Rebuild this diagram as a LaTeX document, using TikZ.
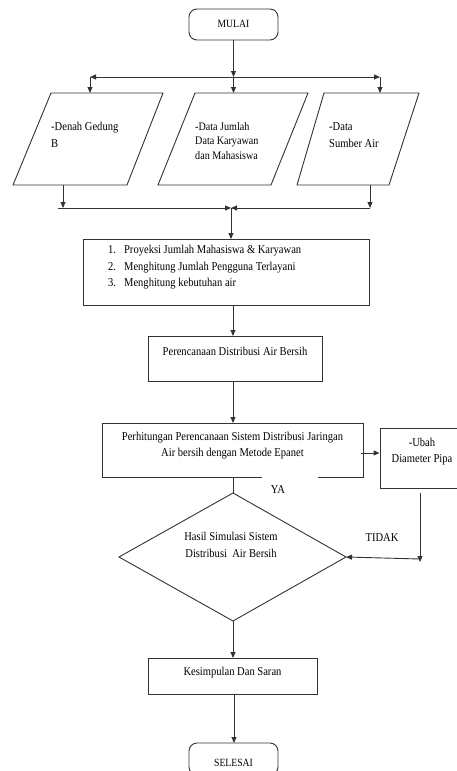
\documentclass[tikz,border=0pt]{standalone}
\usepackage{fontspec}
\setmainfont{Liberation Serif}[FakeStretch=0.88]
\usetikzlibrary{arrows.meta,shapes.geometric}
\begin{document}
\begin{tikzpicture}[x=1pt,y=-1pt,
  ln/.style={draw=black!80,line width=0.9pt},
  arr/.style={ln,-{Triangle[length=6pt,width=5pt]}},
  term/.style={ln,rounded corners=8pt,minimum width=89pt,minimum height=31pt,inner sep=0pt},
  boxn/.style={ln,inner sep=0pt},
  txt/.style={font=\fontsize{12}{16.5}\selectfont,inner sep=0pt,align=left},
  ctxt/.style={font=\fontsize{12}{16.5}\selectfont,inner sep=0pt,align=center}]
\useasboundingbox (0,0) rectangle (456,771);
% terminals
\node[term] (mulai) at (233.5,24.5) {};
\node[ctxt,font=\fontsize{11}{13}\selectfont] (tmulai) at (233.5,24) {MULAI};
\coordinate (j1) at (233.5,77);
\coordinate (jl) at (90,77);
\coordinate (jr) at (380,77);
\draw[arr] (mulai.south) -- (j1);
\draw[arr] (j1) -- (jl);
\draw[arr] (j1) -- (jr);
% parallelograms
\coordinate (p1a) at (51,93); \coordinate (p1b) at (163,93);
\coordinate (p1c) at (127,185); \coordinate (p1d) at (13,185);
\coordinate (p2a) at (195,93); \coordinate (p2b) at (308,93);
\coordinate (p2c) at (271,185); \coordinate (p2d) at (158,185);
\coordinate (p3a) at (324,93); \coordinate (p3b) at (419,93);
\coordinate (p3c) at (389,185); \coordinate (p3d) at (297,185);
\draw[ln] (p1a) -- (p1b) -- (p1c) -- (p1d) -- cycle;
\draw[ln] (p2a) -- (p2b) -- (p2c) -- (p2d) -- cycle;
\draw[ln] (p3a) -- (p3b) -- (p3c) -- (p3d) -- cycle;
\coordinate (p1t) at (90,93);
\coordinate (p2t) at (233.5,93);
\coordinate (p3t) at (380,93);
\draw[arr] (jl) -- (p1t);
\draw[arr] (j1) -- (p2t);
\draw[arr] (jr) -- (p3t);
\node[txt,anchor=west] (t1) at (51,135) {-Denah Gedung\\B};
\node[txt,anchor=west,font=\fontsize{11.5}{14.5}\selectfont] (t2) at (195,141) {-Data Jumlah\\Data Karyawan\\dan Mahasiswa};
\node[txt,anchor=west] (t3) at (329,135) {-Data\\Sumber Air};
% merge
\coordinate (m1) at (63,208); \coordinate (m3) at (370,208);
\coordinate (m0) at (58,208); \coordinate (mc) at (231,208);
\draw[arr] (63,185) -- (m1);
\draw[arr] (370,185) -- (m3);
\draw[arr] (m0) -- (mc);
\draw[arr] (m3) -- (mc);
% box1
\node[boxn,minimum width=286pt,minimum height=66pt] (b1) at (226,272) {};
\node[txt,anchor=north west] (t4) at (108,245) {1.\hspace{8pt}Proyeksi Jumlah Mahasiswa \& Karyawan\\2.\hspace{8pt}Menghitung Jumlah Pengguna Terlayani\\3.\hspace{8pt}Menghitung kebutuhan air};
\draw[arr] (mc) -- (231,239);
% box2
\node[boxn,minimum width=174pt,minimum height=45pt] (b2) at (235,358.5) {};
\node[ctxt] (t5) at (235,351) {Perencanaan Distribusi Air Bersih};
\draw[arr] (233,305) -- (233,336);
% box3
\coordinate (b3nw) at (102,423); \coordinate (b3se) at (363,477);
\draw[ln] (262,477) -| (b3nw) -| (b3se) -- (318,477);
\node[ctxt] (t6) at (232.5,445.5) {Perhitungan Perencanaan Sistem Distribusi Jaringan\\Air bersih dengan Metode Epanet};
\draw[arr] (233,381) -- (233,423);
% ubah
\node[boxn,minimum width=92pt,minimum height=60pt] (b4) at (426,458) {};
\node[ctxt] (t7) at (422,451.5) {-Ubah\\Diameter Pipa};
\draw[arr] (361,453) -- (b4.west |- 0,453);
% diamond
\coordinate (dt) at (233,493); \coordinate (dl) at (119,557);
\coordinate (dr) at (346,557); \coordinate (db) at (233,621);
\draw[ln] (dt) -- (dr) -- (db) -- (dl) -- cycle;
\node[ctxt] (t8) at (231,545) {Hasil Simulasi Sistem\\Distribusi\ \ Air Bersih};
\draw[ln] (233,477) -- (dt);
\node[ctxt] (ya) at (278,490) {YA};
\coordinate (u1) at (420,493); \coordinate (u2) at (420,562);
\draw[arr] (u1) -- (u2);
\draw[arr] (420,559) -- (dr);
\node[ctxt] (tidak) at (382,538) {TIDAK};
% kesimpulan
\node[boxn,minimum width=169pt,minimum height=36pt] (b5) at (232.5,676) {};
\node[ctxt] (t9) at (232.5,673) {Kesimpulan Dan Saran};
\draw[arr] (db) -- (233,658);
% selesai
\node[term,minimum height=32pt] (selesai) at (233.5,759) {};
\node[ctxt,font=\fontsize{11}{13}\selectfont] (tsel) at (233.5,763) {SELESAI};
\draw[arr] (234,694) -- (234,743);
\end{tikzpicture}
\end{document}
